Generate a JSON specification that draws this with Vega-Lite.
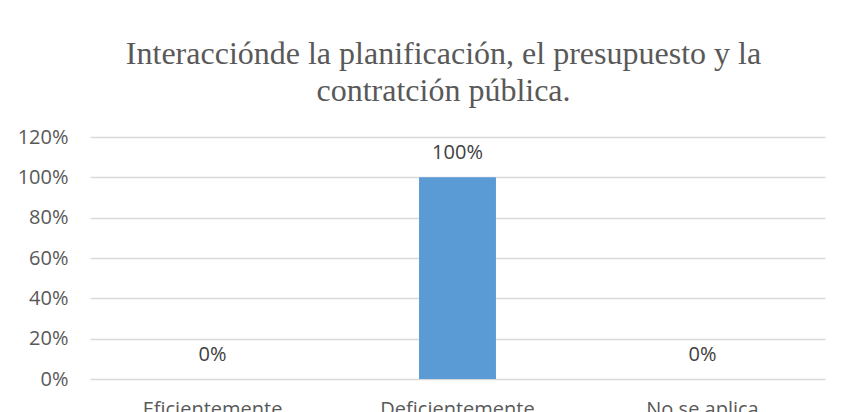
{
  "$schema": "https://vega.github.io/schema/vega-lite/v6.json",
  "width": 735,
  "height": 242,
  "autosize": {"type": "none"},
  "padding": {"left": 90, "top": 137, "right": 34, "bottom": 33},
  "background": "white",
  "title": {
    "text": ["Interacciónde la planificación, el presupuesto y la", "contratción pública."],
    "font": "Liberation Serif",
    "fontSize": 32,
    "fontWeight": "normal",
    "color": "#595959",
    "lineHeight": 37,
    "anchor": "middle",
    "dx": -14,
    "offset": 19
  },
  "data": {
    "values": [
      {"categoria": "Eficientemente", "valor": 0},
      {"categoria": "Deficientemente", "valor": 1},
      {"categoria": "No se aplica", "valor": 0}
    ]
  },
  "encoding": {
    "x": {
      "field": "categoria",
      "type": "nominal",
      "sort": null,
      "scale": {"paddingInner": 0.686, "paddingOuter": 0.343},
      "axis": {
        "title": null,
        "labelAngle": 0,
        "domain": false,
        "ticks": false,
        "labelFont": "Open Sans",
        "labelFontSize": 20,
        "labelColor": "#595959",
        "labelBaseline": "top",
        "labelPadding": 20
      }
    },
    "y": {
      "field": "valor",
      "type": "quantitative",
      "scale": {"domain": [0, 1.2], "nice": false},
      "axis": {
        "title": null,
        "format": ".0%",
        "values": [0, 0.2, 0.4, 0.6, 0.8, 1.0, 1.2],
        "domain": false,
        "ticks": false,
        "labelFont": "Open Sans",
        "labelFontSize": 20,
        "labelColor": "#595959",
        "labelPadding": 22,
        "gridColor": "#d9d9d9",
        "gridWidth": 1.3
      }
    }
  },
  "layer": [
    {"mark": {"type": "bar", "color": "#5b9bd5"}},
    {
      "mark": {"type": "text", "font": "Open Sans", "fontSize": 20, "color": "#404040", "baseline": "alphabetic", "dy": -18},
      "encoding": {"text": {"field": "valor", "type": "quantitative", "format": ".0%"}}
    }
  ],
  "config": {"view": {"stroke": null}}
}
